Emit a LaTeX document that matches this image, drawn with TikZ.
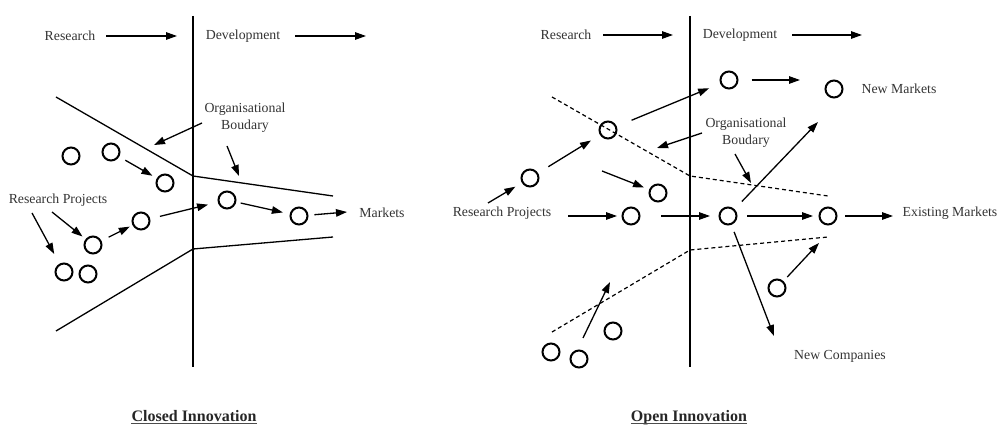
\documentclass[tikz,border=0pt]{standalone}
\usepackage{fontspec}
\setmainfont{Liberation Serif}
\usetikzlibrary{arrows.meta}
\begin{document}
\begin{tikzpicture}[x=1pt,y=-1pt,
 txt/.style={inner sep=0pt, text=black!80, font=\fontsize{13.8}{17}\selectfont, align=center},
 ttl/.style={inner sep=0pt, text=black!85, font=\fontsize{16}{18}\selectfont\bfseries, anchor=base},
 proj/.style={circle, draw, line width=2pt, minimum size=17pt, inner sep=0pt},
 arr/.style={line width=1.3pt, -{Triangle[length=11pt,width=7.5pt]}},
 divider/.style={line width=2.5pt},
 bound/.style={line width=1.3pt},
 dbound/.style={line width=1.2pt, dash pattern=on 4pt off 3pt},
 uline/.style={line width=0.8pt, black!70},
]
\useasboundingbox (0,0) rectangle (997,425);

% ================= Closed Innovation =================
\draw[divider] (193,16) -- (193,367);
\draw[bound] (56,97) -- (193,176) -- (333,196);
\draw[bound] (56,331) -- (193,249) -- (333,237);

\node[txt] (resL) at (70,36) {Research};
\node[txt] (devL) at (243,36) {Development};
\coordinate (resLa) at (106,36); \coordinate (resLb) at (177,36);
\coordinate (devLa) at (295,36); \coordinate (devLb) at (366,36);
\draw[arr] (resLa) -- (resLb);
\draw[arr] (devLa) -- (devLb);

\node[txt] (orgL) at (245,118) {Organisational\\Boudary};
\coordinate (orgLa) at (202,123); \coordinate (orgLb) at (154,145);
\coordinate (orgLc) at (227,146); \coordinate (orgLd) at (239,176);
\draw[arr] (orgLa) -- (orgLb);
\draw[arr] (orgLc) -- (orgLd);

\node[proj] (c1) at (71,156) {};
\node[proj] (c2) at (111,152) {};
\node[proj] (c3) at (165,183) {};
\node[proj] (c4) at (227,200) {};
\node[proj] (c5) at (299,216) {};
\node[proj] (c6) at (141,221) {};
\node[proj] (c7) at (93,245) {};
\node[proj] (c8) at (64,272) {};
\node[proj] (c9) at (88,274) {};

\node[txt] (projL) at (58,200) {Research Projects};
\node[txt] (mktL) at (382,213) {Markets};
\coordinate (pLa) at (32,213); \coordinate (pLb) at (52,212);
\coordinate (mktLa) at (347,212);

\draw[arr, shorten >=11pt] (pLa) -- (c8);
\draw[arr, shorten >=4pt] (pLb) -- (c7);
\draw[arr, shorten <=7pt, shorten >=5pt] (c2) -- (c3);
\draw[arr, shorten <=8pt, shorten >=3pt] (c7) -- (c6);
\draw[arr, shorten <=10pt, shorten >=10pt] (c6) -- (c4);
\draw[arr, shorten <=4.5pt, shorten >=7pt] (c4) -- (c5);
\draw[arr, shorten <=6pt] (c5) -- (mktLa);

\node[ttl] (closed) at (194,421.5) {Closed Innovation};
\draw[uline] ([yshift=-2.3pt]closed.base west) -- ([yshift=-2.3pt]closed.base east);

% ================= Open Innovation =================
\draw[divider] (690,16) -- (690,367);
\draw[dbound] (552,97) -- (690,176) -- (828,196);
\draw[dbound] (552,332) -- (690,250) -- (828,237);

\node[txt] (resR) at (566,35) {Research};
\node[txt] (devR) at (740,35) {Development};
\coordinate (resRa) at (603,35); \coordinate (resRb) at (673,35);
\coordinate (devRa) at (792,35); \coordinate (devRb) at (862,35);
\draw[arr] (resRa) -- (resRb);
\draw[arr] (devRa) -- (devRb);

\node[txt] (orgR) at (746,133) {Organisational\\Boudary};
\coordinate (orgRa) at (702,133); \coordinate (orgRb) at (657,148);
\coordinate (orgRc) at (735,154); \coordinate (orgRd) at (751,183);
\draw[arr] (orgRa) -- (orgRb);
\draw[arr] (orgRc) -- (orgRd);

\node[proj] (o1) at (729,80) {};
\node[proj] (o2) at (834,89) {};
\node[proj] (o3) at (608,130) {};
\node[proj] (o4) at (530,178) {};
\node[proj] (o5) at (658,193) {};
\node[proj] (o6) at (631,216) {};
\node[proj] (o7) at (728,216) {};
\node[proj] (o8) at (828,216) {};
\node[proj] (o9) at (777,288) {};
\node[proj] (o10) at (613,331) {};
\node[proj] (o11) at (551,352) {};
\node[proj] (o12) at (579,359) {};

\node[txt] (projR) at (502,213) {Research Projects};
\node[txt] (newM) at (899,89) {New Markets};
\node[txt] (exM) at (950,213) {Existing Markets};
\node[txt] (newC) at (840,356) {New Companies};

\coordinate (pRa) at (488,203);
\coordinate (pRb) at (568,216);
\coordinate (o5a) at (602,171);
\coordinate (o1b) at (800,80);
\coordinate (o8b) at (893,216);
\coordinate (nmA) at (818,122);
\coordinate (ncA) at (774,336);
\coordinate (o9b) at (819,243);
\coordinate (btA) at (583,338); \coordinate (btB) at (610,282);

\draw[arr, shorten >=7.5pt] (pRa) -- (o4);
\draw[arr, shorten <=12pt, shorten >=10.5pt] (o4) -- (o3);
\draw[arr, shorten <=16pt, shorten >=12pt] (o3) -- (o1);
\draw[arr, shorten <=13pt] (o1) -- (o1b);
\draw[arr, shorten >=5.5pt] (o5a) -- (o5);
\draw[arr, shorten >=4.5pt] (pRb) -- (o6);
\draw[arr, shorten <=20.5pt, shorten >=8.5pt] (o6) -- (o7);
\draw[arr, shorten <=9.5pt, shorten >=5.5pt] (o7) -- (o8);
\draw[arr, shorten <=7.5pt] (o8) -- (o8b);
\draw[arr, shorten <=10.5pt] (o7) -- (nmA);
\draw[arr, shorten <=7.5pt] (o7) -- (ncA);
\draw[arr, shorten <=5.5pt] (o9) -- (o9b);
\draw[arr] (btA) -- (btB);

\node[ttl] (open) at (689,421.5) {Open Innovation};
\draw[uline] ([yshift=-2.3pt]open.base west) -- ([yshift=-2.3pt]open.base east);
\end{tikzpicture}
\end{document}
